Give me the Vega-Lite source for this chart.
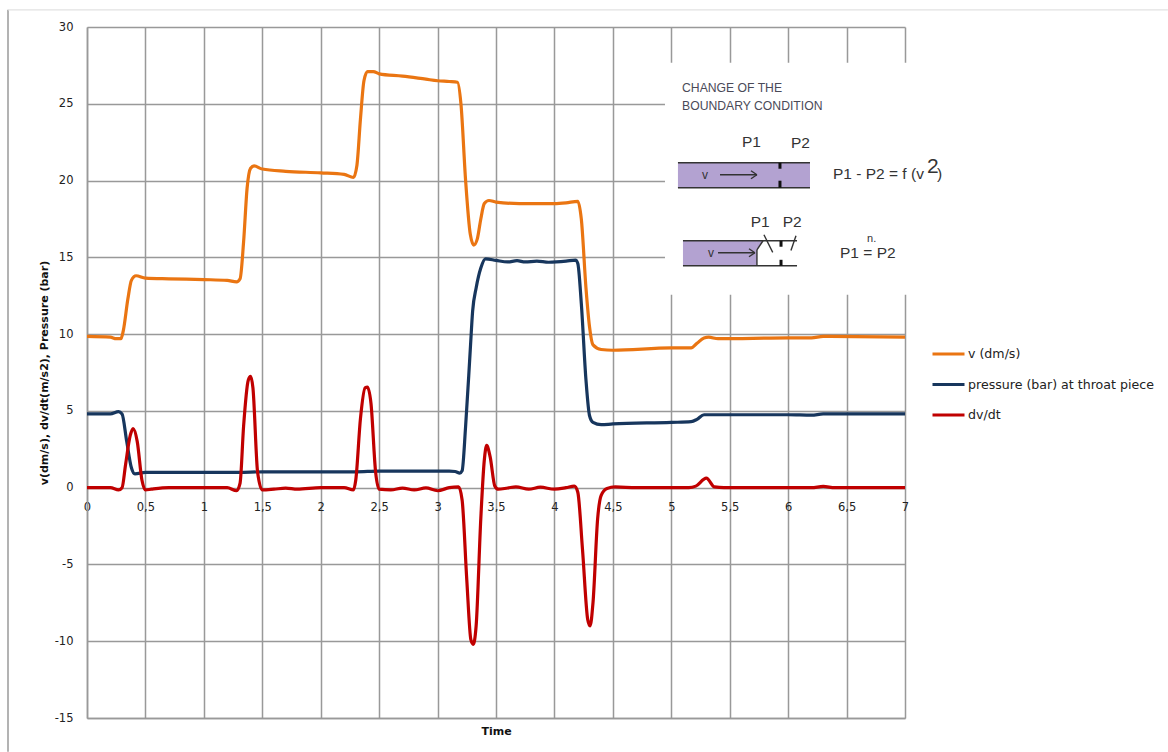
{"$schema":"https://vega.github.io/schema/vega-lite/v6.json","width":818,"height":691,"autosize":{"type":"none"},"padding":{"left":87,"top":27,"right":263,"bottom":34},"background":"white",
"config":{"view":{"stroke":null},"text":{"font":"Liberation Sans","align":"left","baseline":"middle"}},
"datasets":{
"frameLeft":[{"x":-0.676,"x2":-0.676,"y":31.12,"y2":-17.19}],
"frameTop":[{"x":-0.676,"x2":9.25,"y":31.12,"y2":31.12}],
"white":[{"x":4.946,"x2":7.385,"y":27.67,"y2":12.57}],
"purple":[{"x":5.057,"x2":6.187,"y":21.16,"y2":19.53},{"x":5.1,"x2":5.733,"y":16.08,"y2":14.45}],
"wedge":[{"x":5.733,"y":15.49,"y2":16.08},{"x":5.785,"y":16.08,"y2":16.08}],
"pipe":[{"x":5.057,"x2":6.187,"y":21.16,"y2":21.16},{"x":5.057,"x2":6.187,"y":19.53,"y2":19.53},{"x":5.1,"x2":6.076,"y":16.08,"y2":16.08},{"x":5.1,"x2":6.076,"y":14.45,"y2":14.45},{"x":5.417,"x2":5.733,"y":20.38,"y2":20.38},{"x":5.682,"x2":5.733,"y":20.64,"y2":20.38},{"x":5.682,"x2":5.733,"y":20.12,"y2":20.38},{"x":5.4,"x2":5.716,"y":15.3,"y2":15.3},{"x":5.665,"x2":5.716,"y":15.56,"y2":15.3},{"x":5.665,"x2":5.716,"y":15.04,"y2":15.3},{"x":5.733,"x2":5.733,"y":14.45,"y2":15.49},{"x":5.733,"x2":5.785,"y":15.49,"y2":16.08},{"x":5.793,"x2":5.868,"y":16.47,"y2":15.32},{"x":6.067,"x2":6.024,"y":16.41,"y2":15.45}],
"throat":[{"x":5.93,"x2":5.93,"y":21.16,"y2":20.77},{"x":5.93,"x2":5.93,"y":19.99,"y2":19.53},{"x":5.939,"x2":5.939,"y":16.08,"y2":15.69},{"x":5.939,"x2":5.939,"y":14.84,"y2":14.45}],
"heading":[{"x":5.092,"y":26.04,"t":"CHANGE OF THE"},{"x":5.092,"y":24.87,"t":"BOUNDARY CONDITION"}],
"labels":[{"x":5.605,"y":22.53,"t":"P1"},{"x":6.024,"y":22.46,"t":"P2"},{"x":6.384,"y":20.44,"t":"P1 - P2 = f (v"},{"x":7.274,"y":20.44,"t":")"},{"x":5.68,"y":17.32,"t":"P1"},{"x":5.953,"y":17.32,"t":"P2"},{"x":6.444,"y":15.3,"t":"P1 = P2"}],
"vs":[{"x":5.263,"y":20.38,"t":"v"},{"x":5.314,"y":15.3,"t":"v"}],
"sup":[{"x":7.188,"y":20.87,"t":"2"}],
"nn":[{"x":6.675,"y":16.21,"t":"n."}],
"series":[
{"x":0,"y":9.85,"s":"v (dm/s)"},{"x":0.2,"y":9.8,"s":"v (dm/s)"},{"x":0.25,"y":9.7,"s":"v (dm/s)"},{"x":0.29,"y":9.7,"s":"v (dm/s)"},{"x":0.31,"y":10.2,"s":"v (dm/s)"},{"x":0.35,"y":12.3,"s":"v (dm/s)"},{"x":0.38,"y":13.5,"s":"v (dm/s)"},{"x":0.42,"y":13.8,"s":"v (dm/s)"},{"x":0.5,"y":13.65,"s":"v (dm/s)"},{"x":0.7,"y":13.6,"s":"v (dm/s)"},{"x":1.0,"y":13.55,"s":"v (dm/s)"},{"x":1.2,"y":13.5,"s":"v (dm/s)"},{"x":1.28,"y":13.4,"s":"v (dm/s)"},{"x":1.31,"y":13.6,"s":"v (dm/s)"},{"x":1.34,"y":16,"s":"v (dm/s)"},{"x":1.37,"y":19.5,"s":"v (dm/s)"},{"x":1.4,"y":20.8,"s":"v (dm/s)"},{"x":1.43,"y":20.95,"s":"v (dm/s)"},{"x":1.5,"y":20.75,"s":"v (dm/s)"},{"x":1.7,"y":20.6,"s":"v (dm/s)"},{"x":2.0,"y":20.5,"s":"v (dm/s)"},{"x":2.2,"y":20.4,"s":"v (dm/s)"},{"x":2.28,"y":20.2,"s":"v (dm/s)"},{"x":2.31,"y":21,"s":"v (dm/s)"},{"x":2.34,"y":24,"s":"v (dm/s)"},{"x":2.37,"y":26.5,"s":"v (dm/s)"},{"x":2.4,"y":27.1,"s":"v (dm/s)"},{"x":2.45,"y":27.1,"s":"v (dm/s)"},{"x":2.5,"y":26.95,"s":"v (dm/s)"},{"x":2.7,"y":26.8,"s":"v (dm/s)"},{"x":2.9,"y":26.6,"s":"v (dm/s)"},{"x":3.0,"y":26.5,"s":"v (dm/s)"},{"x":3.1,"y":26.45,"s":"v (dm/s)"},{"x":3.17,"y":26.4,"s":"v (dm/s)"},{"x":3.2,"y":25,"s":"v (dm/s)"},{"x":3.24,"y":20,"s":"v (dm/s)"},{"x":3.28,"y":16.5,"s":"v (dm/s)"},{"x":3.31,"y":15.8,"s":"v (dm/s)"},{"x":3.34,"y":16.2,"s":"v (dm/s)"},{"x":3.37,"y":17.5,"s":"v (dm/s)"},{"x":3.4,"y":18.5,"s":"v (dm/s)"},{"x":3.44,"y":18.7,"s":"v (dm/s)"},{"x":3.5,"y":18.6,"s":"v (dm/s)"},{"x":3.7,"y":18.5,"s":"v (dm/s)"},{"x":4.0,"y":18.5,"s":"v (dm/s)"},{"x":4.1,"y":18.55,"s":"v (dm/s)"},{"x":4.2,"y":18.65,"s":"v (dm/s)"},{"x":4.23,"y":17.5,"s":"v (dm/s)"},{"x":4.27,"y":13,"s":"v (dm/s)"},{"x":4.3,"y":10.5,"s":"v (dm/s)"},{"x":4.33,"y":9.3,"s":"v (dm/s)"},{"x":4.4,"y":9,"s":"v (dm/s)"},{"x":4.5,"y":8.95,"s":"v (dm/s)"},{"x":5.0,"y":9.1,"s":"v (dm/s)"},{"x":5.17,"y":9.1,"s":"v (dm/s)"},{"x":5.22,"y":9.4,"s":"v (dm/s)"},{"x":5.28,"y":9.75,"s":"v (dm/s)"},{"x":5.32,"y":9.8,"s":"v (dm/s)"},{"x":5.4,"y":9.7,"s":"v (dm/s)"},{"x":6.0,"y":9.75,"s":"v (dm/s)"},{"x":6.2,"y":9.75,"s":"v (dm/s)"},{"x":6.3,"y":9.85,"s":"v (dm/s)"},{"x":7,"y":9.8,"s":"v (dm/s)"},
{"x":0,"y":4.8,"s":"pressure (bar) at throat piece"},{"x":0.2,"y":4.8,"s":"pressure (bar) at throat piece"},{"x":0.27,"y":4.95,"s":"pressure (bar) at throat piece"},{"x":0.3,"y":4.8,"s":"pressure (bar) at throat piece"},{"x":0.34,"y":3,"s":"pressure (bar) at throat piece"},{"x":0.38,"y":1.3,"s":"pressure (bar) at throat piece"},{"x":0.41,"y":0.9,"s":"pressure (bar) at throat piece"},{"x":0.5,"y":1,"s":"pressure (bar) at throat piece"},{"x":1.3,"y":1,"s":"pressure (bar) at throat piece"},{"x":1.5,"y":1.03,"s":"pressure (bar) at throat piece"},{"x":2.3,"y":1.03,"s":"pressure (bar) at throat piece"},{"x":2.5,"y":1.08,"s":"pressure (bar) at throat piece"},{"x":3.1,"y":1.08,"s":"pressure (bar) at throat piece"},{"x":3.15,"y":1.05,"s":"pressure (bar) at throat piece"},{"x":3.19,"y":0.95,"s":"pressure (bar) at throat piece"},{"x":3.21,"y":1.1,"s":"pressure (bar) at throat piece"},{"x":3.24,"y":4,"s":"pressure (bar) at throat piece"},{"x":3.28,"y":9,"s":"pressure (bar) at throat piece"},{"x":3.3,"y":11.5,"s":"pressure (bar) at throat piece"},{"x":3.33,"y":13,"s":"pressure (bar) at throat piece"},{"x":3.37,"y":14.3,"s":"pressure (bar) at throat piece"},{"x":3.41,"y":14.9,"s":"pressure (bar) at throat piece"},{"x":3.5,"y":14.8,"s":"pressure (bar) at throat piece"},{"x":3.6,"y":14.7,"s":"pressure (bar) at throat piece"},{"x":3.68,"y":14.78,"s":"pressure (bar) at throat piece"},{"x":3.75,"y":14.7,"s":"pressure (bar) at throat piece"},{"x":3.85,"y":14.75,"s":"pressure (bar) at throat piece"},{"x":3.95,"y":14.68,"s":"pressure (bar) at throat piece"},{"x":4.1,"y":14.75,"s":"pressure (bar) at throat piece"},{"x":4.18,"y":14.82,"s":"pressure (bar) at throat piece"},{"x":4.2,"y":14.6,"s":"pressure (bar) at throat piece"},{"x":4.23,"y":12,"s":"pressure (bar) at throat piece"},{"x":4.27,"y":7,"s":"pressure (bar) at throat piece"},{"x":4.3,"y":4.7,"s":"pressure (bar) at throat piece"},{"x":4.33,"y":4.25,"s":"pressure (bar) at throat piece"},{"x":4.4,"y":4.1,"s":"pressure (bar) at throat piece"},{"x":4.5,"y":4.15,"s":"pressure (bar) at throat piece"},{"x":5.0,"y":4.25,"s":"pressure (bar) at throat piece"},{"x":5.17,"y":4.3,"s":"pressure (bar) at throat piece"},{"x":5.22,"y":4.45,"s":"pressure (bar) at throat piece"},{"x":5.28,"y":4.75,"s":"pressure (bar) at throat piece"},{"x":5.35,"y":4.75,"s":"pressure (bar) at throat piece"},{"x":6,"y":4.75,"s":"pressure (bar) at throat piece"},{"x":6.2,"y":4.72,"s":"pressure (bar) at throat piece"},{"x":6.3,"y":4.8,"s":"pressure (bar) at throat piece"},{"x":7,"y":4.8,"s":"pressure (bar) at throat piece"},
{"x":0,"y":0,"s":"dv/dt"},{"x":0.2,"y":0,"s":"dv/dt"},{"x":0.27,"y":-0.15,"s":"dv/dt"},{"x":0.3,"y":0,"s":"dv/dt"},{"x":0.33,"y":1.5,"s":"dv/dt"},{"x":0.37,"y":3.4,"s":"dv/dt"},{"x":0.395,"y":3.85,"s":"dv/dt"},{"x":0.43,"y":3,"s":"dv/dt"},{"x":0.47,"y":0.5,"s":"dv/dt"},{"x":0.5,"y":-0.15,"s":"dv/dt"},{"x":0.55,"y":-0.1,"s":"dv/dt"},{"x":0.7,"y":0,"s":"dv/dt"},{"x":1.2,"y":0,"s":"dv/dt"},{"x":1.28,"y":-0.2,"s":"dv/dt"},{"x":1.31,"y":0.3,"s":"dv/dt"},{"x":1.34,"y":4,"s":"dv/dt"},{"x":1.38,"y":7,"s":"dv/dt"},{"x":1.4,"y":7.25,"s":"dv/dt"},{"x":1.42,"y":6.5,"s":"dv/dt"},{"x":1.46,"y":1,"s":"dv/dt"},{"x":1.5,"y":-0.15,"s":"dv/dt"},{"x":1.6,"y":-0.1,"s":"dv/dt"},{"x":1.7,"y":-0.03,"s":"dv/dt"},{"x":1.8,"y":-0.1,"s":"dv/dt"},{"x":2,"y":0,"s":"dv/dt"},{"x":2.2,"y":0,"s":"dv/dt"},{"x":2.28,"y":-0.15,"s":"dv/dt"},{"x":2.3,"y":0.5,"s":"dv/dt"},{"x":2.34,"y":4.5,"s":"dv/dt"},{"x":2.38,"y":6.5,"s":"dv/dt"},{"x":2.4,"y":6.55,"s":"dv/dt"},{"x":2.43,"y":5.5,"s":"dv/dt"},{"x":2.47,"y":1,"s":"dv/dt"},{"x":2.5,"y":-0.1,"s":"dv/dt"},{"x":2.6,"y":-0.15,"s":"dv/dt"},{"x":2.7,"y":-0.03,"s":"dv/dt"},{"x":2.8,"y":-0.15,"s":"dv/dt"},{"x":2.9,"y":-0.02,"s":"dv/dt"},{"x":3,"y":-0.2,"s":"dv/dt"},{"x":3.1,"y":0,"s":"dv/dt"},{"x":3.18,"y":0.05,"s":"dv/dt"},{"x":3.21,"y":-0.8,"s":"dv/dt"},{"x":3.25,"y":-6,"s":"dv/dt"},{"x":3.285,"y":-9.9,"s":"dv/dt"},{"x":3.305,"y":-10.2,"s":"dv/dt"},{"x":3.33,"y":-9,"s":"dv/dt"},{"x":3.37,"y":-2,"s":"dv/dt"},{"x":3.4,"y":1.8,"s":"dv/dt"},{"x":3.42,"y":2.75,"s":"dv/dt"},{"x":3.45,"y":2,"s":"dv/dt"},{"x":3.49,"y":0.1,"s":"dv/dt"},{"x":3.52,"y":-0.1,"s":"dv/dt"},{"x":3.6,"y":-0.02,"s":"dv/dt"},{"x":3.67,"y":0.05,"s":"dv/dt"},{"x":3.78,"y":-0.1,"s":"dv/dt"},{"x":3.88,"y":0.03,"s":"dv/dt"},{"x":4,"y":-0.1,"s":"dv/dt"},{"x":4.1,"y":0,"s":"dv/dt"},{"x":4.17,"y":0.1,"s":"dv/dt"},{"x":4.2,"y":-0.3,"s":"dv/dt"},{"x":4.24,"y":-4,"s":"dv/dt"},{"x":4.285,"y":-8.6,"s":"dv/dt"},{"x":4.305,"y":-9,"s":"dv/dt"},{"x":4.33,"y":-7.5,"s":"dv/dt"},{"x":4.37,"y":-2,"s":"dv/dt"},{"x":4.4,"y":-0.5,"s":"dv/dt"},{"x":4.45,"y":-0.05,"s":"dv/dt"},{"x":4.52,"y":0.05,"s":"dv/dt"},{"x":4.7,"y":0,"s":"dv/dt"},{"x":5.15,"y":0,"s":"dv/dt"},{"x":5.21,"y":0.1,"s":"dv/dt"},{"x":5.3,"y":0.62,"s":"dv/dt"},{"x":5.37,"y":0.05,"s":"dv/dt"},{"x":5.45,"y":0,"s":"dv/dt"},{"x":6.2,"y":0,"s":"dv/dt"},{"x":6.3,"y":0.08,"s":"dv/dt"},{"x":6.4,"y":0,"s":"dv/dt"},{"x":7,"y":0,"s":"dv/dt"}
]},
"encoding":{
"x":{"field":"x","type":"quantitative","scale":{"domain":[0,7],"nice":false,"zero":false},"axis":null},
"y":{"field":"y","type":"quantitative","scale":{"domain":[-15,30],"nice":false,"zero":false},
"axis":{"orient":"left","values":[-15,-10,-5,0,5,10,15,20,25,30],"ticks":false,"domain":true,"domainColor":"#999999","domainWidth":1.5,"grid":true,"gridColor":"#999999","gridWidth":1.5,"gridOpacity":1,"labelFont":"DejaVu Sans","labelFontSize":11.5,"labelColor":"#222222","labelPadding":14,"labelExpr":"replace(datum.label,'\u2212','-')","title":"v(dm/s), dv/dt(m/s2), Pressure (bar)","titleFont":"DejaVu Sans","titleFontSize":11,"titleFontWeight":"bold","titleColor":"#111111","titlePadding":5}}},
"resolve":{"axis":{"x":"independent"}},
"layer":[
{"data":{"name":"white"},"mark":{"type":"rect","fill":"white","stroke":null},
"encoding":{
"x":{"field":"x","type":"quantitative","scale":{"domain":[0,7],"nice":false,"zero":false},
"axis":{"orient":"bottom","values":[0,0.5,1,1.5,2,2.5,3,3.5,4,4.5,5,5.5,6,6.5,7],"labels":false,"ticks":false,"domain":true,"domainColor":"#999999","domainWidth":1.5,"grid":true,"gridColor":"#999999","gridWidth":1.5,"gridOpacity":1,"title":"Time","titleFont":"DejaVu Sans","titleFontSize":11,"titleFontWeight":"bold","titleColor":"#111111","titlePadding":7}},
"x2":{"field":"x2"},
"y2":{"field":"y2"}}},
{"data":{"name":"frameLeft"},"mark":{"type":"rule","stroke":"#9a9a9a","strokeWidth":1.5},"encoding":{"x2":{"field":"x2"},"y2":{"field":"y2"}}},
{"data":{"name":"frameTop"},"mark":{"type":"rule","stroke":"#e2e2e2","strokeWidth":1.2},"encoding":{"x2":{"field":"x2"},"y2":{"field":"y2"}}},
{"data":{"name":"purple"},"mark":{"type":"rect","fill":"#B3A2D1","stroke":null},"encoding":{"x2":{"field":"x2"},"y2":{"field":"y2"}}},
{"data":{"name":"wedge"},"mark":{"type":"area","fill":"#B3A2D1"},"encoding":{"y2":{"field":"y2"}}},
{"data":{"name":"pipe"},"mark":{"type":"rule","stroke":"#333333","strokeWidth":1.4},"encoding":{"x2":{"field":"x2"},"y2":{"field":"y2"}}},
{"data":{"name":"throat"},"mark":{"type":"rule","stroke":"#111111","strokeWidth":3},"encoding":{"x2":{"field":"x2"},"y2":{"field":"y2"}}},
{"data":{"name":"heading"},"mark":{"type":"text","fontSize":12.2,"fill":"#4a4a58"},"encoding":{"text":{"field":"t"}}},
{"data":{"name":"labels"},"mark":{"type":"text","fontSize":15.5,"fill":"#333333"},"encoding":{"text":{"field":"t"}}},
{"data":{"name":"vs"},"mark":{"type":"text","fontSize":12,"fill":"#333333"},"encoding":{"text":{"field":"t"}}},
{"data":{"name":"sup"},"mark":{"type":"text","fontSize":21,"fill":"#333333"},"encoding":{"text":{"field":"t"}}},
{"data":{"name":"nn"},"mark":{"type":"text","fontSize":11,"fill":"#333333"},"encoding":{"text":{"field":"t"}}},
{"data":{"name":"series"},"mark":{"type":"line","interpolate":"monotone","strokeWidth":3.2,"clip":false},
"encoding":{
"x":{"field":"x","type":"quantitative","scale":{"domain":[0,7],"nice":false,"zero":false},
"axis":{"orient":"bottom","offset":-230.33,"values":[0,0.5,1,1.5,2,2.5,3,3.5,4,4.5,5,5.5,6,6.5,7],"grid":false,"ticks":false,"domain":false,"labelFlush":false,"labelOverlap":false,"labelFont":"DejaVu Sans","labelFontSize":11.5,"labelColor":"#222222","labelPadding":14,"labelExpr":"replace(datum.label,'.',',')","format":".1~f","title":null}},
"color":{"field":"s","type":"nominal","scale":{"domain":["v (dm/s)","pressure (bar) at throat piece","dv/dt"],"range":["#EA7512","#17365D","#C00000"]},
"legend":{"orient":"none","legendX":844,"legendY":309.5,"title":null,"symbolType":"stroke","symbolSize":1024,"symbolStrokeWidth":3,"labelFont":"DejaVu Sans","labelFontSize":12.6,"labelLimit":300,"labelColor":"#222222","labelOffset":2,"rowPadding":5.5,"padding":0}}}}
]}
